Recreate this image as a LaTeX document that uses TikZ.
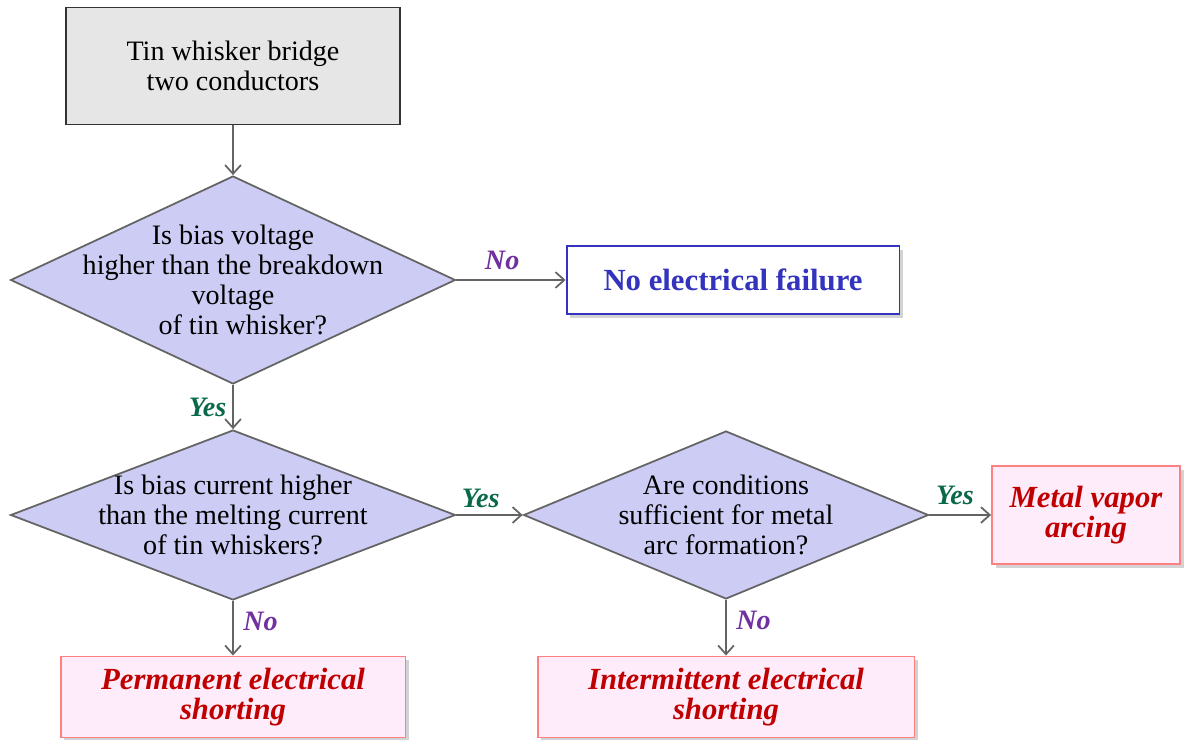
\documentclass[tikz,border=0pt]{standalone}
\usepackage{fontspec}
\setmainfont{Liberation Serif}
\usepackage{tikz}
\usetikzlibrary{shapes.geometric, arrows.meta, positioning, shadows}
\definecolor{qfill}{RGB}{204,204,245}
\definecolor{qline}{RGB}{100,100,100}
\definecolor{startfill}{RGB}{230,230,230}
\definecolor{okblue}{RGB}{51,51,190}
\definecolor{faultred}{RGB}{192,0,0}
\definecolor{faultfill}{RGB}{255,236,250}
\definecolor{faultline}{RGB}{255,128,128}
\definecolor{yesgreen}{RGB}{10,105,75}
\definecolor{nopurple}{RGB}{112,48,160}
\definecolor{arrowgray}{RGB}{100,100,100}
\tikzset{
  startbox/.style={rectangle, draw=black!80, fill=startfill, minimum width=6.68cm, minimum height=2.34cm, align=center, font=\fontsize{16}{17.5}\selectfont, line width=0.7pt},
  decision/.style={diamond, draw=qline, fill=qfill, inner sep=0pt, line width=1pt},
  qtext/.style={align=center, font=\fontsize{16}{17}\selectfont},
  okbox/.style={rectangle, draw=okblue, fill=white, text=okblue, font=\fontsize{17.5}{19}\selectfont\bfseries, line width=1.1pt, drop shadow={shadow xshift=2pt, shadow yshift=-2pt, opacity=0.35}},
  faultbox/.style={rectangle, draw=faultline, fill=faultfill, text=faultred, align=center, font=\fontsize{17.5}{17}\selectfont\bfseries\itshape, line width=1.1pt, drop shadow={shadow xshift=2pt, shadow yshift=-2pt, opacity=0.35}},
  arrow/.style={-{Straight Barb[length=5pt, width=9pt]}, line width=1pt, color=arrowgray},
  yeslabel/.style={text=yesgreen, font=\fontsize{16}{17}\selectfont\bfseries\itshape},
  nolabel/.style={text=nopurple, font=\fontsize{16}{17}\selectfont\bfseries\itshape}
}
\begin{document}
\begin{tikzpicture}[x=0.02cm, y=-0.02cm]
  \useasboundingbox (0,0) rectangle (1184,740);

  % Start
  \node[startbox] (start) at (233,66) {Tin whisker bridge\\two conductors};

  % Decisions
  \node[decision, minimum width=8.9cm, minimum height=4.16cm,
    label={[qtext]center:Is bias voltage\\higher than the breakdown\\voltage\\\hspace*{0.7em}of tin whisker?}] (volt) at (233,280) {};
  \node[decision, minimum width=8.9cm, minimum height=3.4cm,
    label={[qtext]center:Is bias current higher\\than the melting current\\of tin whiskers?}] (curr) at (233,515) {};
  \node[decision, minimum width=8.1cm, minimum height=3.36cm,
    label={[qtext]center:Are conditions\\sufficient for metal\\arc formation?}] (arc) at (726,515) {};

  % Outcomes
  \node[okbox, minimum width=6.66cm, minimum height=1.36cm] (nofail) at (733,280) {No electrical failure};
  \node[faultbox, minimum width=3.76cm, minimum height=1.96cm] (vapor) at (1086,515) {Metal vapor\\arcing};
  \node[faultbox, minimum width=6.9cm, minimum height=1.62cm] (perm) at (233,697) {Permanent electrical\\shorting};
  \node[faultbox, minimum width=7.54cm, minimum height=1.62cm] (inter) at (726,697) {Intermittent electrical\\shorting};

  % Connectors
  \draw[arrow] (start) -- (volt);
  \draw[arrow] (volt) -- node[nolabel, above, xshift=-5pt, yshift=2pt] {No} (nofail);
  \draw[arrow] (volt) -- node[yeslabel, left] {Yes} (curr);
  \draw[arrow] (curr) -- node[yeslabel, above, xshift=-5pt] {Yes} (arc);
  \draw[arrow] (arc) -- node[yeslabel, above, xshift=-3pt, yshift=2pt] {Yes} (vapor);
  \draw[arrow] (curr) -- node[nolabel, right, xshift=2pt, yshift=4pt] {No} (perm);
  \draw[arrow] (arc) -- node[nolabel, right, xshift=2pt, yshift=4pt] {No} (inter);
\end{tikzpicture}
\end{document}
